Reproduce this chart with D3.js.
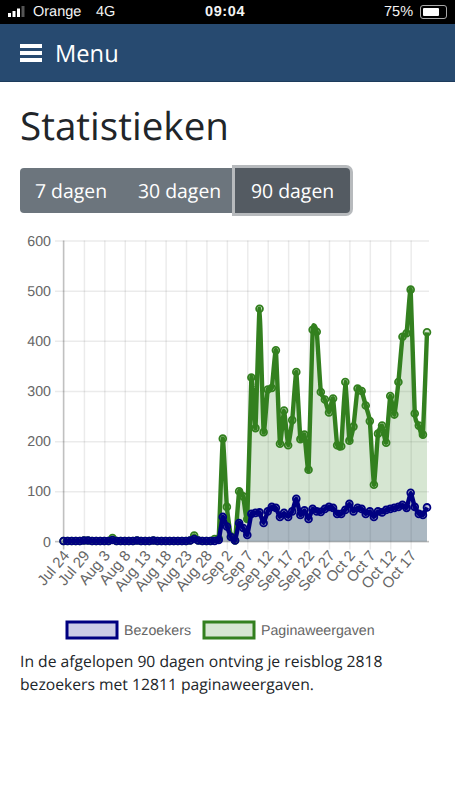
<!DOCTYPE html>
<html>

<head>
    <meta charset="utf-8">
    <style>
        html, body {
            margin: 0;
            width: 455px;
            height: 810px;
            overflow: hidden;
            background: #fff;
            font-family: 'Open Sans', sans-serif;
            color: #212529;
            text-rendering: geometricPrecision;
        }

        .status {
            position: absolute;
            left: 0; top: 0;
            width: 455px; height: 24px;
            background: #000;
            color: #f4f4f4;
            font-family: 'Liberation Sans', Arial, sans-serif;
            font-size: 14.5px;
            line-height: 25px;
        }

        .status span { position: absolute; top: 0; white-space: nowrap; }

        .battery {
            position: absolute;
            left: 420px; top: 5px;
            width: 25px; height: 12px;
            border: 1px solid #aaa;
            border-radius: 3px;
        }

        .battery div {
            margin: 2px;
            width: 16px; height: 8px;
            background: #fff;
            border-radius: 1px;
        }

        .nav {
            position: absolute;
            left: 0; top: 24px;
            width: 455px; height: 58px;
            background: #274a70;
            border-bottom: 1px solid #1d3b5c;
            box-sizing: border-box;
        }

        .burger {
            position: absolute;
            left: 20px; top: 20px;
            width: 22px; height: 18px;
        }

        .burger div { height: 3.5px; background: #fff; margin-bottom: 3.7px; }

        .menu {
            position: absolute;
            left: 55px; top: 13px;
            color: #fff;
            font-size: 23.7px;
            line-height: 33px;
        }

        h1 {
            position: absolute;
            left: 20px; top: 98px;
            margin: 0;
            font-weight: 400;
            font-size: 38.6px;
            line-height: 56px;
        }

        .btn-group {
            position: absolute;
            left: 20px; top: 168px;
            width: 330px; height: 45px;
            background: #6c757d;
            border-radius: 4px;
            color: #fff;
            font-size: 19.4px;
            line-height: 45px;
        }

        .btn-group span { position: absolute; top: 0; white-space: nowrap; }

        .active {
            position: absolute;
            left: 215px; top: 0;
            width: 115px; height: 45px;
            background: #545b62;
            border-radius: 0 4px 4px 0;
            box-shadow: 0 0 0 3px #b7babd;
        }

        svg { position: absolute; left: 0; top: 0; overflow: visible; }

        .x .domain, .y .domain { display: none; }

        .x .tick line, .y .tick line {
            stroke: rgba(0, 0, 0, .08);
            stroke-width: 1.5;
        }

        .y .tick text, .legend-label {
            font-family: 'Liberation Sans', Arial, sans-serif;
            font-size: 14.2px;
            fill: #666;
        }

        .x .tick text {
            font-family: 'Liberation Sans', Arial, sans-serif;
            font-size: 15px;
            fill: #666;
        }

        .note {
            position: absolute;
            left: 20px; top: 650px;
            width: 400px;
            margin: 0;
            font-size: 15.7px;
            line-height: 23px;
        }
    </style>
</head>

<body>
    <div class="status">
        <svg width="20" height="12" style="left:8px;top:6px">
            <rect x="0" y="7" width="3" height="4" fill="#fff"></rect>
            <rect x="4.5" y="5" width="3" height="6" fill="#fff"></rect>
            <rect x="9" y="2.5" width="3" height="8.5" fill="#fff"></rect>
            <rect x="13.5" y="0" width="3" height="11" fill="#555"></rect>
        </svg>
        <span style="left:33px">Orange</span>
        <span style="left:96px">4G</span>
        <span style="left:205px;font-weight:bold;letter-spacing:.6px">09:04</span>
        <span style="left:384px">75%</span>
        <div class="battery"><div></div></div>
    </div>

    <div class="nav">
        <div class="burger"><div></div><div></div><div></div></div>
        <div class="menu">Menu</div>
    </div>

    <h1>Statistieken</h1>

    <div class="btn-group">
        <div class="active"></div>
        <span style="left:15px">7 dagen</span>
        <span style="left:118px">30 dagen</span>
        <span style="left:231px">90 dagen</span>
    </div>

    <svg id="chart" width="455" height="810"></svg>

    <p class="note">In de afgelopen 90 dagen ontving je reisblog 2818 bezoekers met 12811 paginaweergaven.</p>

    <script src="https://d3js.org/d3.v7.min.js"></script>

    <script>
        // one value per day, Jul 24 to Oct 21
        let bezoekers = [
            1, 1, 1, 1, 1, 2, 2, 1, 1, 1, 1, 1, 3, 1, 1, 1, 1, 1, 2, 1,
            1, 1, 2, 1, 1, 1, 1, 1, 1, 1, 1, 2, 5, 2, 1, 1, 1, 1, 3,
            49, 30, 9, 2, 37, 27, 13, 55, 57, 58, 37, 60, 69, 67, 49, 57, 49, 60, 85, 53, 62,
            45, 65, 60, 59, 65, 69, 67, 55, 55, 63, 75, 60, 67, 65, 55, 60, 49, 60, 58, 63,
            65, 67, 69, 73, 67, 97, 69, 55, 53, 68
        ]

        let paginaweergaven = [
            1, 1, 1, 1, 1, 2, 2, 1, 1, 1, 1, 1, 7, 1, 1, 1, 1, 1, 2, 1,
            1, 1, 2, 1, 1, 1, 1, 1, 1, 1, 1, 2, 12, 2, 1, 1, 1, 5, 6,
            205, 69, 10, 2, 100, 90, 45, 327, 226, 464, 218, 303, 306, 381, 195, 261, 192, 242, 338, 204, 213,
            143, 422, 418, 298, 283, 257, 285, 192, 190, 318, 201, 229, 305, 300, 271, 240, 113, 215, 231, 197,
            290, 253, 318, 408, 415, 502, 255, 231, 213, 417
        ]

        let tickLabels = [
            "Jul 24", "Jul 29", "Aug 3", "Aug 8", "Aug 13", "Aug 18", "Aug 23", "Aug 28", "Sep 2",
            "Sep 7", "Sep 12", "Sep 17", "Sep 22", "Sep 27", "Oct 2", "Oct 7", "Oct 12", "Oct 17"
        ]

        let yTicks = [0, 100, 200, 300, 400, 500, 600]

        let seriesNames = ["Bezoekers", "Paginaweergaven"]

        let margin = { top: 240.5, right: 28, bottom: 268.5, left: 63.5 }
        let height = 810

        let svg = d3.select("#chart")

        let x = d3.scaleLinear().domain([0, 89]).range([margin.left, 427])
        let y = d3.scaleLinear().domain([0, 600]).range([height - margin.bottom, margin.top])

        let xAxisSettings = d3.axisBottom(x)
            .tickValues(tickLabels.map((d, i) => i * 5))
            .tickFormat((d, i) => tickLabels[i])
            .tickSize(309)
            .tickPadding(0)

        svg.append("g")
            .attr("class", "x axis")
            .attr("transform", `translate(0, ${margin.top})`)
            .call(xAxisSettings)
            .call(g => g.selectAll(".tick text")
                .attr("text-anchor", "end")
                .attr("transform", "translate(2, 3) rotate(-50 0 309)")
                .attr("dy", "0.35em")
                .attr("y", 309))

        let yAxisSettings = d3.axisLeft(y)
            .tickValues(yTicks)
            .tickSize(x(89) + 2 - 55)
            .tickPadding(4)

        svg.append("g")
            .attr("class", "y axis")
            .attr("transform", `translate(${x(89) + 2}, 0)`)
            .call(yAxisSettings)

        // zero lines are darker
        svg.append("line")
            .attr("x1", x(0)).attr("x2", x(0))
            .attr("y1", margin.top).attr("y2", y(0) + 8)
            .attr("stroke", "rgba(0,0,0,.2)").attr("stroke-width", 1.5)
        svg.append("line")
            .attr("x1", 55).attr("x2", x(89) + 2)
            .attr("y1", y(0)).attr("y2", y(0))
            .attr("stroke", "rgba(0,0,0,.2)").attr("stroke-width", 1.5)

        let line = d3.line()
            .x((d, i) => x(i))
            .y(d => y(d))
            .curve(d3.curveCardinal.tension(0.6))

        let area = d3.area()
            .x((d, i) => x(i))
            .y0(y(0))
            .y1(d => y(d))
            .curve(d3.curveCardinal.tension(0.6))

        let drawSeries = function (values, color, fill) {
            svg.append("path")
                .datum(values)
                .attr("fill", fill)
                .attr("d", area)

            svg.append("path")
                .datum(values)
                .attr("fill", "none")
                .attr("stroke", color)
                .attr("stroke-width", 4.4)
                .attr("d", line)

            svg.append("g")
                .selectAll("circle")
                .data(values)
                .join("circle")
                .attr("cx", (d, i) => x(i))
                .attr("cy", d => y(d))
                .attr("r", 3.4)
                .attr("fill", fill)
                .attr("stroke", color)
                .attr("stroke-width", 1.8)
        }

        // page views go under the visitors
        drawSeries(paginaweergaven, "#33801f", "rgba(51, 128, 31, .2)")
        drawSeries(bezoekers, "#000080", "rgba(0, 0, 128, .2)")

        // legend
        let legendX = [67, 204]
        let legendColors = ["#000080", "#33801f"]
        let legendFills = ["rgba(0, 0, 128, .2)", "rgba(51, 128, 31, .2)"]

        let legend = svg.append("g")
            .selectAll("g")
            .data(seriesNames)
            .join("g")
            .attr("transform", (d, i) => `translate(${legendX[i]}, 622)`)

        legend.append("rect")
            .attr("width", 50)
            .attr("height", 16)
            .attr("fill", (d, i) => legendFills[i])
            .attr("stroke", (d, i) => legendColors[i])
            .attr("stroke-width", 3)

        legend.append("text")
            .attr("class", "legend-label")
            .attr("x", 57)
            .attr("y", 13)
            .text(d => d)
    </script>
</body>

</html>
